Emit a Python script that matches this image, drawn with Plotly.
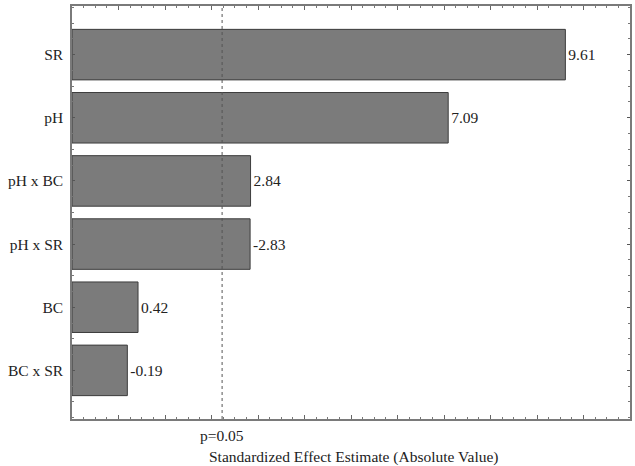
import plotly.graph_objects as go

# Data
factors = ["SR", "pH", "pH x BC", "pH x SR", "BC", "BC x SR"]
effects = [9.61, 7.09, 2.84, -2.83, 0.42, -0.19]   # standardized effects (signed)
p_crit = 2.228                                      # t critical value at p=0.05
p_label = "p=0.05"
x_title = "Standardized Effect Estimate (Absolute Value)"

X_MIN, X_MAX = -1, 11
FONT = "Liberation Serif"
FS = 15.5

abs_eff = [abs(v) for v in effects]
pos = list(range(len(factors)))

fig = go.Figure()
fig.add_trace(go.Bar(
    y=pos,
    x=[v - X_MIN for v in abs_eff],
    base=X_MIN,
    orientation="h",
    width=0.8,
    marker=dict(color="#7b7b7b", line=dict(color="#3c3c3c", width=1)),
    text=[f"{v:.2f}" for v in effects],
    textposition="outside",
    cliponaxis=False,
    textfont=dict(family=FONT, size=FS, color="#222222"),
    hoverinfo="skip",
))

fig.add_shape(type="line", xref="x", yref="paper", x0=p_crit, x1=p_crit, y0=0, y1=1,
              line=dict(color="#555555", width=1, dash="dot"))

fig.add_annotation(x=p_crit, xref="x", y=-0.041, yref="paper", yanchor="middle",
                   text=p_label, showarrow=False,
                   font=dict(family=FONT, size=FS, color="#222222"))
fig.add_annotation(x=0.505, xref="paper", y=-0.092, yref="paper", yanchor="middle",
                   text=x_title, showarrow=False,
                   font=dict(family=FONT, size=FS, color="#222222"))

fig.update_layout(
    width=635, height=466,
    margin=dict(l=72, r=3, t=6, b=47),
    paper_bgcolor="white", plot_bgcolor="white",
    showlegend=False,
    font=dict(family=FONT, size=FS, color="#222222"),
    bargap=0.2,
)
fig.update_xaxes(
    range=[X_MIN, X_MAX], showgrid=False, zeroline=False,
    showticklabels=False,
    showline=True, linecolor="#7a7a7a", linewidth=1.5, mirror="ticks",
    ticks="inside", dtick=1, tick0=0, ticklen=4, tickcolor="#666666",
    minor=dict(ticks="inside", dtick=0.25, tick0=0, ticklen=2, tickcolor="#777777"),
)
fig.update_yaxes(
    range=[len(factors) - 0.23, -0.77], showgrid=False, zeroline=False,
    tickmode="array", tickvals=pos, ticktext=factors,
    showline=True, linecolor="#7a7a7a", linewidth=1.5, mirror="ticks",
    ticks="inside", ticklen=3, tickcolor="#555555",
    minor=dict(ticks="inside", dtick=0.25, tick0=0, ticklen=2, tickcolor="#777777"),
    tickfont=dict(family=FONT, size=FS, color="#222222"),
    ticklabelstandoff=4,
)

fig.write_html("out.html")
